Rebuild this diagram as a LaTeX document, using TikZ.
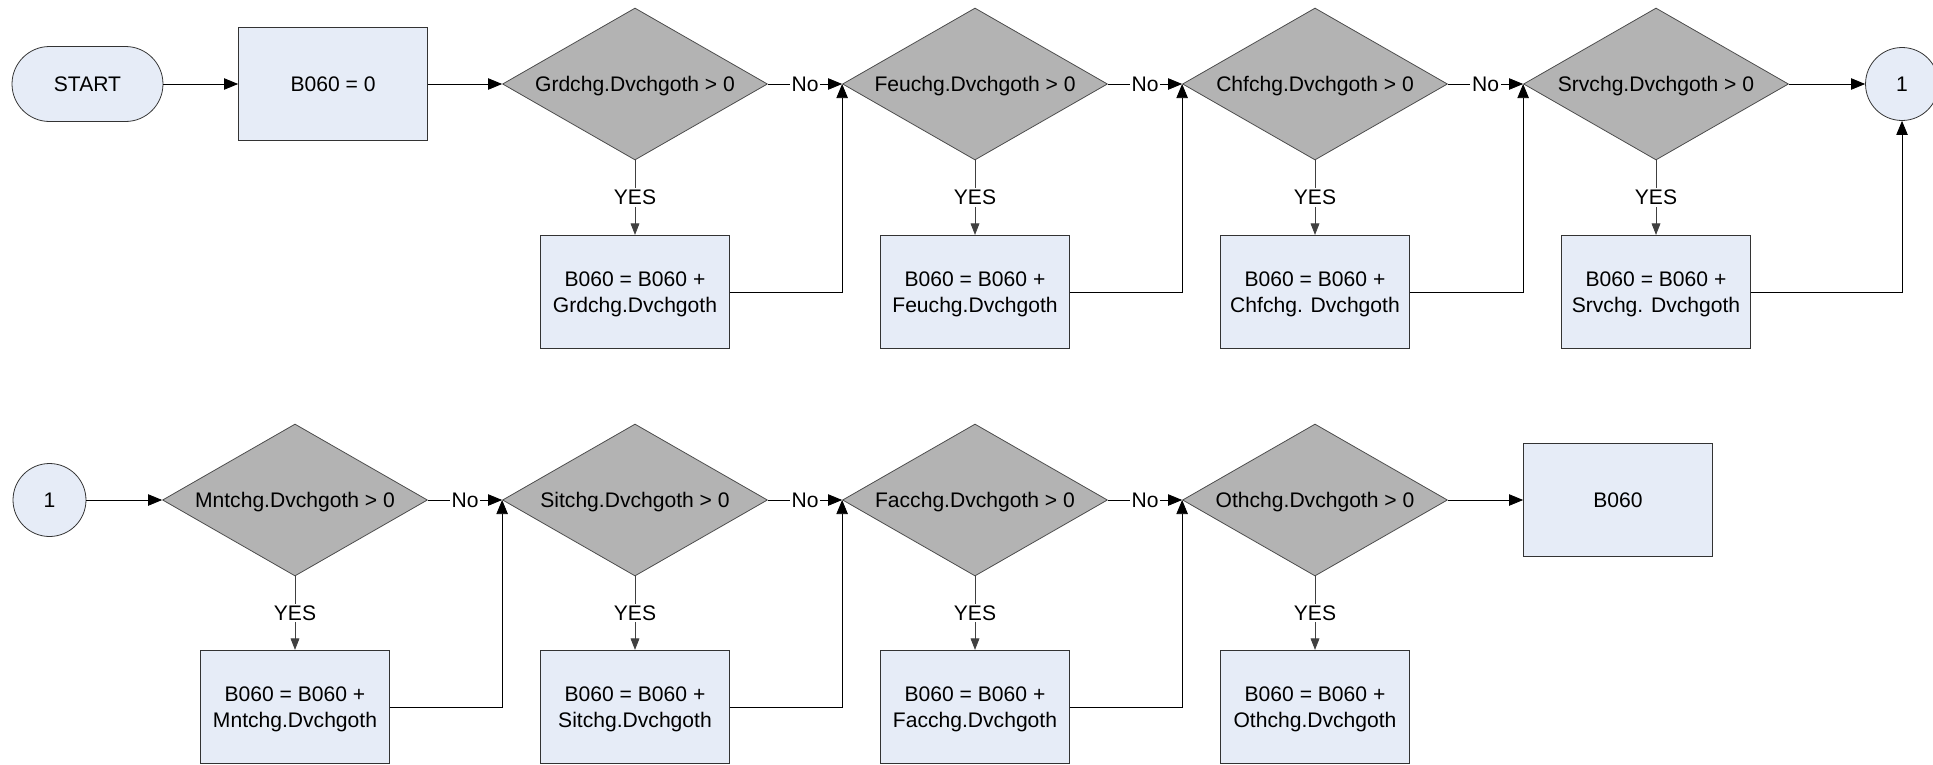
\documentclass[tikz,border=0pt]{standalone}
\usepackage{fontspec}
\setmainfont{Liberation Sans}
\usetikzlibrary{arrows.meta, positioning, calc, shapes.geometric}

\definecolor{boxfill}{HTML}{E6ECF7}
\definecolor{decfill}{HTML}{B3B3B3}

\begin{document}
\begin{tikzpicture}[
    x=0.02cm, y=-0.02cm, % one unit = one pixel of the layout
    >={Triangle[length=8pt, width=6.5pt]}, % Set default arrow tip style
    font=\fontsize{12}{14.5}\selectfont,
    line width=0.45pt,
    procbox/.style={draw=black!80, fill=boxfill, minimum width=3.78cm, minimum height=2.27cm, align=center, inner sep=2pt, text depth=0pt}, % Style for process boxes
    decision/.style={diamond, draw=black!70, fill=decfill, minimum width=5.3cm, minimum height=3.04cm, aspect=1.75, inner sep=0pt, text depth=0pt}, % Style for tests
    terminal/.style={draw=black!80, fill=boxfill, rounded corners=0.75cm, minimum width=3.02cm, minimum height=1.5cm}, % Style for START
    conn/.style={circle, draw=black!80, fill=boxfill, minimum size=1.46cm, inner sep=0pt}, % Style for page connector
    flow/.style={->, black}, % Main connectors
    yesflow/.style={-{Triangle[length=6.5pt, width=5pt]}, black!75, line width=0.4pt}, % YES branches
    lbl/.style={fill=white, text=black, inner sep=1pt} % Labels breaking a line
]

    % Page size
    \useasboundingbox (0,0) rectangle (1933,764);

    % Rows and yes boxes heights
    \def\rowa{84}
    \def\rowb{500}
    \def\yesa{292}
    \def\yesb{707}

    % First row
    \node[terminal] (start) at (87.5,\rowa) {START};
    \node[procbox] (init) at (333,\rowa) {B060 = 0};
    \node[decision] (grd) at (635,\rowa) {Grdchg.Dvchgoth > 0};
    \node[decision] (feu) at (975,\rowa) {Feuchg.Dvchgoth > 0};
    \node[decision] (chf) at (1315,\rowa) {Chfchg.Dvchgoth > 0};
    \node[decision] (srv) at (1656,\rowa) {Srvchg.Dvchgoth > 0};
    \node[conn] (cona) at (1902,\rowa) {1};

    % Yes boxes of the first row
    \node[procbox] (grdadd) at (635,\yesa) {B060 = B060 +\\Grdchg.Dvchgoth};
    \node[procbox] (feuadd) at (975,\yesa) {B060 = B060 +\\Feuchg.Dvchgoth};
    \node[procbox] (chfadd) at (1315,\yesa) {B060 = B060 +\\Chfchg. Dvchgoth};
    \node[procbox] (srvadd) at (1656,\yesa) {B060 = B060 +\\Srvchg. Dvchgoth};

    % Second row
    \node[conn] (conb) at (49.5,\rowb) {1};
    \node[decision] (mnt) at (295,\rowb) {Mntchg.Dvchgoth > 0};
    \node[decision] (sit) at (635,\rowb) {Sitchg.Dvchgoth > 0};
    \node[decision] (fac) at (975,\rowb) {Facchg.Dvchgoth > 0};
    \node[decision] (oth) at (1315,\rowb) {Othchg.Dvchgoth > 0};
    \node[procbox] (result) at (1618,\rowb) {B060};

    % Yes boxes of the second row
    \node[procbox] (mntadd) at (295,\yesb) {B060 = B060 +\\Mntchg.Dvchgoth};
    \node[procbox] (sitadd) at (635,\yesb) {B060 = B060 +\\Sitchg.Dvchgoth};
    \node[procbox] (facadd) at (975,\yesb) {B060 = B060 +\\Facchg.Dvchgoth};
    \node[procbox] (othadd) at (1315,\yesb) {B060 = B060 +\\Othchg.Dvchgoth};

    % Main line, first row
    \draw[flow] (start) -- (init);
    \draw[flow] (init) -- (grd);
    \draw[flow] (grd.east) -- node[lbl] {No} (feu.west);
    \draw[flow] (feu.east) -- node[lbl] {No} (chf.west);
    \draw[flow] (chf.east) -- node[lbl] {No} (srv.west);
    \draw[flow] (srv.east) -- (cona);

    % YES branches, first row
    \draw[yesflow] (grd.south) -- node[lbl] {YES} (grdadd.north);
    \draw[yesflow] (feu.south) -- node[lbl] {YES} (feuadd.north);
    \draw[yesflow] (chf.south) -- node[lbl] {YES} (chfadd.north);
    \draw[yesflow] (srv.south) -- node[lbl] {YES} (srvadd.north);

    % Back into the main line
    \draw[flow] (grdadd.east) -| (feu.west);
    \draw[flow] (feuadd.east) -| (chf.west);
    \draw[flow] (chfadd.east) -| (srv.west);
    \draw[flow] (srvadd.east) -| (cona.south);

    % Main line, second row
    \draw[flow] (conb) -- (mnt.west);
    \draw[flow] (mnt.east) -- node[lbl] {No} (sit.west);
    \draw[flow] (sit.east) -- node[lbl] {No} (fac.west);
    \draw[flow] (fac.east) -- node[lbl] {No} (oth.west);
    \draw[flow] (oth.east) -- (result);

    % YES branches, second row
    \draw[yesflow] (mnt.south) -- node[lbl] {YES} (mntadd.north);
    \draw[yesflow] (sit.south) -- node[lbl] {YES} (sitadd.north);
    \draw[yesflow] (fac.south) -- node[lbl] {YES} (facadd.north);
    \draw[yesflow] (oth.south) -- node[lbl] {YES} (othadd.north);

    % Back into the main line
    \draw[flow] (mntadd.east) -| (sit.west);
    \draw[flow] (sitadd.east) -| (fac.west);
    \draw[flow] (facadd.east) -| (oth.west);

\end{tikzpicture}
\end{document}
